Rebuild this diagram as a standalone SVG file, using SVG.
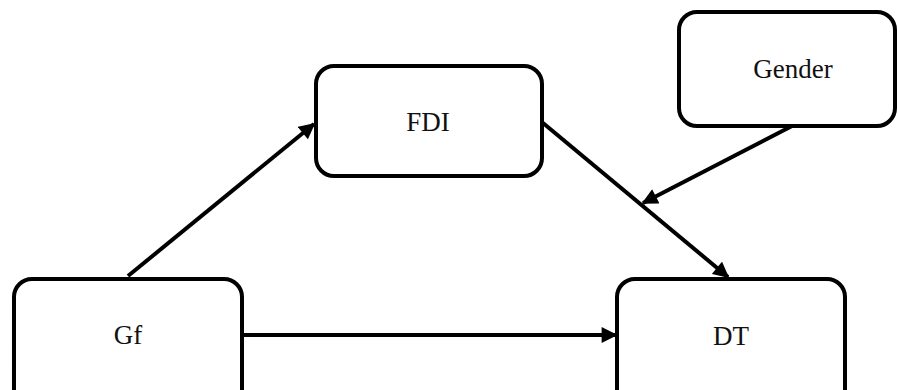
<svg xmlns="http://www.w3.org/2000/svg" width="897" height="390" viewBox="0 0 897 390">
<style>
.box{fill:#fff;stroke:#000;stroke-width:4}
.lbl{font-family:'Liberation Serif','Times New Roman','DejaVu Serif',serif;font-size:27px;fill:#111;text-anchor:middle}
.edge{stroke:#000;stroke-width:4;fill:none;marker-end:url(#ah)}
</style>
<defs>
<marker id="ah" viewBox="0 0 10 10" refX="9" refY="5" markerWidth="4.2" markerHeight="4" orient="auto" markerUnits="strokeWidth">
<path d="M0,0 L10,5 L0,10 z" fill="#000"/>
</marker>
</defs>
<rect width="897" height="390" fill="#fff"/>
<g id="connectors">
<line class="edge" x1="128" y1="276" x2="314" y2="124"/>
<line class="edge" x1="242" y1="335" x2="616" y2="335"/>
<line class="edge" x1="543" y1="123" x2="728" y2="277"/>
<line class="edge" x1="792" y1="126" x2="643" y2="203"/>
</g>
<g id="FDI">
<rect class="box" x="316" y="66" width="226" height="110" rx="18"/>
<text class="lbl" x="428" y="131" font-family="Liberation Serif, serif">FDI</text>
</g>
<g id="Gender">
<rect class="box" x="679" y="12" width="216" height="114" rx="18"/>
<text class="lbl" x="793" y="78" font-family="Liberation Serif, serif">Gender</text>
</g>
<g id="Gf">
<rect class="box" x="14" y="279" width="228" height="130" rx="18"/>
<text class="lbl" x="128" y="344" font-family="Liberation Serif, serif">Gf</text>
</g>
<g id="DT">
<rect class="box" x="617" y="279" width="228" height="130" rx="18"/>
<text class="lbl" x="731" y="345" font-family="Liberation Serif, serif">DT</text>
</g>
</svg>
